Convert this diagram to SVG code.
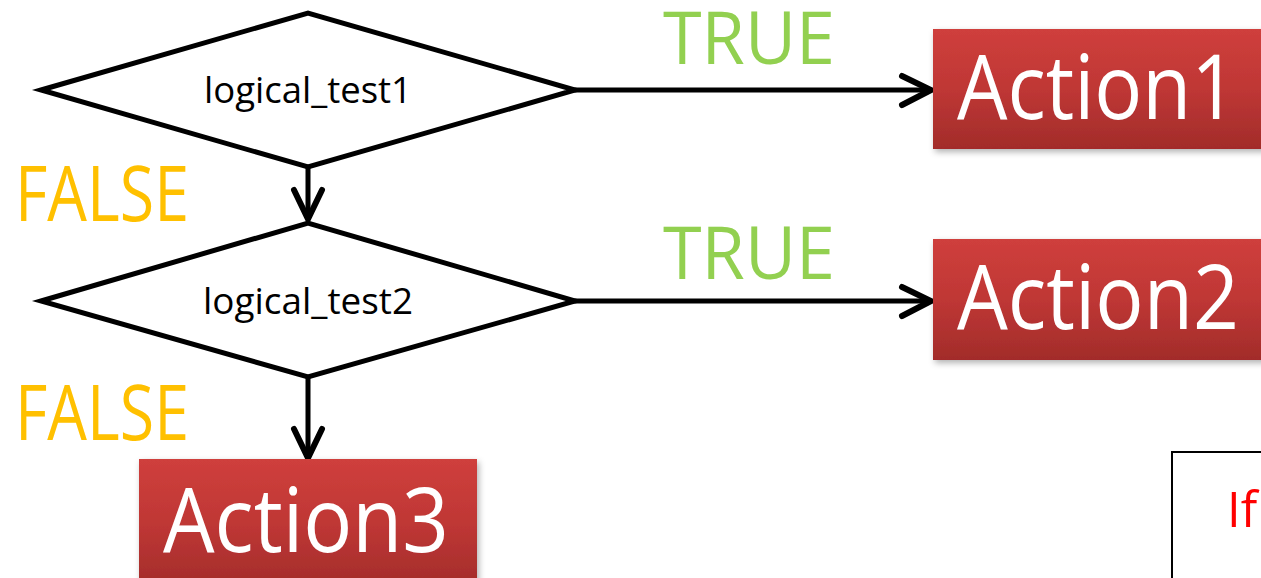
<svg xmlns="http://www.w3.org/2000/svg" width="1261" height="578" viewBox="0 0 1261 578">
  <defs>
    <linearGradient id="redFill" x1="0" y1="0" x2="0" y2="1">
      <stop offset="0" stop-color="#cf3f3c"/>
      <stop offset="0.5" stop-color="#bf3735"/>
      <stop offset="1" stop-color="#a22c2a"/>
    </linearGradient>
    <filter id="boxShadow" x="-10%" y="-20%" width="130%" height="150%">
      <feDropShadow dx="2" dy="3" stdDeviation="3" flood-color="#000" flood-opacity="0.3"/>
    </filter>
  </defs>
  <style>
    .decision { fill: #fff; stroke: #000; stroke-width: 5; stroke-linejoin: miter; }
    .decision-label { font-family: "Open Sans", "DejaVu Sans", sans-serif; font-size: 36px; fill: #000; text-anchor: middle; }
    .action { fill: url(#redFill); filter: url(#boxShadow); }
    .action-label { font-family: "Open Sans", "DejaVu Sans", sans-serif; font-size: 90px; fill: #fff; }
    .flow { fill: none; stroke: #000; stroke-width: 5; stroke-linecap: round; }
    .head { fill: none; stroke: #000; stroke-width: 6; stroke-linecap: round; stroke-linejoin: miter; }
    .yes { font-family: "Open Sans", "DejaVu Sans", sans-serif; font-size: 74px; fill: #92d050; }
    .no { font-family: "Open Sans", "DejaVu Sans", sans-serif; font-size: 76px; fill: #ffc000; }
    .note { fill: #fff; stroke: #000; stroke-width: 2; }
    .note-text { font-family: "Open Sans", "DejaVu Sans", sans-serif; font-size: 49px; fill: #ff0000; }
  </style>

  <rect width="1261" height="578" fill="#fff"/>

  <!-- connectors: straight flow lines with open chevron heads -->
  <g id="connectors">
    <line class="flow" x1="575" y1="90" x2="930" y2="90"/>
    <path class="head" d="M 902 76 L 931 90 L 902 105"/>
    <line class="flow" x1="575" y1="301" x2="930" y2="301"/>
    <path class="head" d="M 902 287 L 931 301 L 902 316"/>
    <line class="flow" x1="308" y1="167" x2="308" y2="217"/>
    <path class="head" d="M 294 190 L 308 219 L 322 190"/>
    <line class="flow" x1="308" y1="377" x2="308" y2="456"/>
    <path class="head" d="M 294 429 L 308 458 L 322 429"/>
  </g>

  <!-- branch labels -->
  <g id="labels">
    <text class="yes" x="663" y="64" textLength="172" lengthAdjust="spacingAndGlyphs">TRUE</text>
    <text class="yes" x="663" y="279" textLength="172" lengthAdjust="spacingAndGlyphs">TRUE</text>
    <text class="no" x="15" y="221" textLength="174" lengthAdjust="spacingAndGlyphs">FALSE</text>
    <text class="no" x="15" y="440" textLength="174" lengthAdjust="spacingAndGlyphs">FALSE</text>
  </g>

  <g id="test1">
    <polygon class="decision" points="41,90 308,13 575,90 308,167"/>
    <text class="decision-label" x="308" y="103" textLength="208" lengthAdjust="spacingAndGlyphs">logical_test1</text>
  </g>

  <g id="test2">
    <polygon class="decision" points="41,301 308,223 575,301 308,377"/>
    <text class="decision-label" x="308" y="314" textLength="210" lengthAdjust="spacingAndGlyphs">logical_test2</text>
  </g>

  <g id="action1">
    <rect class="action" x="933" y="29" width="340" height="120"/>
    <text class="action-label" x="957" y="119" textLength="280" lengthAdjust="spacingAndGlyphs">Action1</text>
  </g>

  <g id="action2">
    <rect class="action" x="933" y="239" width="340" height="121"/>
    <text class="action-label" x="957" y="329" textLength="282" lengthAdjust="spacingAndGlyphs">Action2</text>
  </g>

  <g id="action3">
    <rect class="action" x="139" y="459" width="338" height="130"/>
    <text class="action-label" x="163" y="552" textLength="286" lengthAdjust="spacingAndGlyphs">Action3</text>
  </g>

  <g id="note">
    <rect class="note" x="1172" y="452" width="120" height="150"/>
    <text class="note-text" x="1227" y="527">If</text>
  </g>
</svg>
